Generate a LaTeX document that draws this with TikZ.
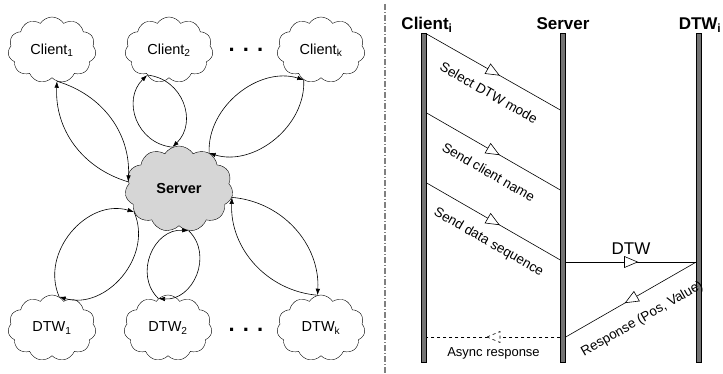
\documentclass[tikz,border=0pt]{standalone}
\usepackage{fontspec}
\setmainfont{Liberation Sans}
\usetikzlibrary{shapes.symbols, arrows.meta, decorations.markings}

\begin{document}
\begin{tikzpicture}[
    x=1pt, y=-1pt,
    every node/.style={font=\fontsize{13}{15}\selectfont, align=center},
    peer/.style={cloud, draw, cloud puffs=11, cloud puff arc=115, aspect=1.35, minimum width=88pt, minimum height=66pt, inner sep=0pt, font=\fontsize{14.5}{16}\selectfont},
    hub/.style={peer, fill=black!16, minimum width=108pt, minimum height=86pt, font=\fontsize{14.5}{16}\selectfont\bfseries},
    link/.style={-{Latex[length=6.5pt, width=4.5pt]}, line width=0.6pt},
    dots/.style={font=\fontsize{22}{22}\selectfont\bfseries},
    lifeline/.style={rectangle, draw, fill=black!55, minimum width=5pt, minimum height=329pt, inner sep=0pt, anchor=north},
    head/.style={font=\fontsize{17}{19}\selectfont\bfseries, anchor=base},
    msg/.style={line width=0.6pt, postaction={decorate}, decoration={markings, mark=at position 0.5 with {\draw[#1, line width=0.6pt, fill=white] (6.5pt,0) -- (-6.5pt,5.5pt) -- (-6.5pt,-5.5pt) -- cycle;}}},
    msg/.default=solid,
    lbl/.style={inner sep=2pt, sloped, font=\fontsize{13.5}{15}\selectfont}
]
    \useasboundingbox (0,0) rectangle (723,374);

    % Clients
    \node[peer] (c1) at (52,50) {Client\textsubscript{1}};
    \node[peer] (c2) at (169,50) {Client\textsubscript{2}};
    \node[peer] (ck) at (321,50) {Client\textsubscript{k}};
    \node[dots] (cdots) at (246,50) {. . .};

    % Server
    \node[hub] (srv) at (179,189) {Server};

    % DTW workers
    \node[peer] (d1) at (52,328) {DTW\textsubscript{1}};
    \node[peer] (d2) at (168,328) {DTW\textsubscript{2}};
    \node[peer] (dk) at (321,328) {DTW\textsubscript{k}};
    \node[dots] (ddots) at (246,330) {. . .};

    % Two-way links
    \draw[link] (srv.172) to[bend left=38] (c1.279);
    \draw[link] (c1.279) to[bend left=38] (srv.172);
    \draw[link] (srv.99) to[bend left=65, looseness=1.2] (c2.229);
    \draw[link] (c2.229) to[bend left=65, looseness=1.2] (srv.99);
    \draw[link] (srv.50) to[bend left=55] (ck.240);
    \draw[link] (ck.240) to[bend left=55] (srv.50);
    \draw[link] (srv.207) to[bend left=65, looseness=1.1] (d1.77);
    \draw[link] (d1.77) to[bend left=65, looseness=1.1] (srv.207);
    \draw[link] (srv.283) to[bend left=70, looseness=1.2] (d2.108);
    \draw[link] (d2.108) to[bend left=70, looseness=1.2] (srv.283);
    \draw[link] (srv.351) to[bend left=44] (dk.96);
    \draw[link] (dk.96) to[bend left=44] (srv.351);

    % Separator
    \draw[gray, line width=1.2pt, dash pattern=on 6pt off 2pt on 1pt off 2pt] (385,4) -- (385,374);

    % Lifelines
    \node[lifeline] (cl) at (424,33) {};
    \node[lifeline] (sv) at (563,33) {};
    \node[lifeline] (dt) at (699,33) {};
    \node[head] (hcl) at (427,30) {Client\textsubscript{i}};
    \node[head] (hsv) at (563,30) {Server};
    \node[head] (hdt) at (700,30) {DTW\textsubscript{i}};

    % Messages
    \draw[msg] (cl.east |- 0,34) -- node[lbl, pos=0.54, below=13pt] {Select DTW mode} (sv.west |- 0,110);
    \draw[msg] (cl.east |- 0,113) -- node[lbl, pos=0.54, below=13pt] {Send client name} (sv.west |- 0,190);
    \draw[msg] (cl.east |- 0,183) -- node[lbl, pos=0.54, below=12pt] {Send data sequence} (sv.west |- 0,260);
    \draw[msg] (sv.east |- 0,262) -- node[inner sep=2pt, above=5pt, font=\fontsize{17}{19}\selectfont] {DTW} (dt.west |- 0,262);
    \draw[msg] (dt.west |- 0,262) -- node[lbl, below=14pt] {Response (Pos, Value)} (sv.east |- 0,337);
    \draw[msg=dashed, dashed] (sv.west |- 0,337) -- node[inner sep=2pt, below=8pt] {Async response} (cl.east |- 0,337);

\end{tikzpicture}
\end{document}
